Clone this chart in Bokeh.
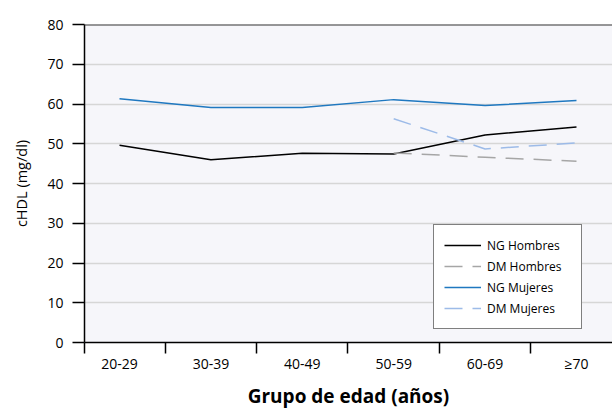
from bokeh.plotting import figure
from bokeh.models import Range1d, FixedTicker, Legend, LegendItem, Span
from bokeh.embed import file_html
from bokeh.resources import INLINE

# ---- data ----
groups = ["20-29", "30-39", "40-49", "50-59", "60-69", "≥70"]
ng_hombres = [49.6, 46.0, 47.6, 47.4, 52.2, 54.2]
ng_mujeres = [61.3, 59.1, 59.1, 61.1, 59.6, 60.9]
dm_groups = ["50-59", "60-69", "≥70"]
dm_hombres = [47.7, 46.6, 45.6]
dm_mujeres = [56.3, 48.7, 50.2]
y_ticks = [0, 10, 20, 30, 40, 50, 60, 70, 80]

FONT = "Open Sans"
idx = {g: i for i, g in enumerate(groups)}
x_all = [idx[g] for g in groups]
x_dm = [idx[g] for g in dm_groups]

x_start, x_end = -0.383, 5.394

p = figure(width=612, height=411, output_backend="svg", toolbar_location=None,
           x_range=Range1d(x_start, x_end), y_range=Range1d(0, 80),
           min_border_left=84, min_border_right=0, min_border_top=24, min_border_bottom=69)
p.background_fill_color = "#f6f6fa"
p.border_fill_color = "white"
p.outline_line_color = None

# axes
xa = p.xaxis[0]
xa.ticker = FixedTicker(ticks=x_all,
                        minor_ticks=[x_start] + [i + 0.5 for i in range(len(groups) - 1)])
xa.major_label_overrides = {i: g for i, g in enumerate(groups)}
xa.major_tick_line_color = None
xa.major_tick_out = 0
xa.major_tick_in = 0
xa.minor_tick_out = 11
xa.minor_tick_in = 0
xa.minor_tick_line_color = "black"
xa.minor_tick_line_width = 1.5
xa.axis_line_color = "black"
xa.axis_line_width = 1.5
xa.major_label_standoff = 0
xa.major_label_text_font = FONT
xa.major_label_text_font_size = "14px"
xa.major_label_text_color = "black"
xa.axis_label = "Grupo de edad (años)"
xa.axis_label_text_font = FONT
xa.axis_label_text_font_style = "bold"
xa.axis_label_text_font_size = "19px"
xa.axis_label_text_color = "black"
xa.axis_label_standoff = 7

ya = p.yaxis[0]
ya.ticker = FixedTicker(ticks=y_ticks)
ya.minor_tick_line_color = None
ya.major_tick_out = 12
ya.major_tick_in = 0
ya.major_tick_line_color = "black"
ya.major_tick_line_width = 1.5
ya.axis_line_color = "black"
ya.axis_line_width = 1.5
ya.major_label_standoff = 9
ya.major_label_text_font = FONT
ya.major_label_text_font_size = "14px"
ya.major_label_text_color = "black"
ya.axis_label = "cHDL (mg/dl)"
ya.axis_label_text_font = FONT
ya.axis_label_text_font_style = "normal"
ya.axis_label_text_font_size = "14.5px"
ya.axis_label_text_color = "black"
ya.axis_label_standoff = 13

p.xgrid.grid_line_color = None
p.ygrid.ticker = FixedTicker(ticks=y_ticks[1:-1])
p.ygrid.grid_line_color = "#d6d6d6"
p.ygrid.grid_line_width = 1.5

p.add_layout(Span(location=80, dimension="width", line_color="#333333", line_width=2))

# lines
r1 = p.line(x_all, ng_hombres, line_color="black", line_width=1.5)
r2 = p.line(x_dm, dm_hombres, line_color="#a6a6a6", line_width=1.5, line_dash="18 10")
r3 = p.line(x_all, ng_mujeres, line_color="#1f78c0", line_width=1.5)
r4 = p.line(x_dm, dm_mujeres, line_color="#9dbbe8", line_width=1.5, line_dash="18 10")

legend = Legend(items=[LegendItem(label="NG Hombres", renderers=[r1]),
                       LegendItem(label="DM Hombres", renderers=[r2]),
                       LegendItem(label="NG Mujeres", renderers=[r3]),
                       LegendItem(label="DM Mujeres", renderers=[r4])],
                location=(349, 13))
legend.margin = 0
legend.padding = 10
legend.spacing = 1
legend.glyph_width = 37
legend.glyph_height = 20
legend.label_height = 20
legend.label_width = 84
legend.label_standoff = 6
legend.label_text_font = FONT
legend.label_text_font_size = "12px"
legend.label_text_color = "black"
legend.background_fill_color = "white"
legend.background_fill_alpha = 1
legend.border_line_color = "black"
legend.border_line_width = 1.5
p.add_layout(legend)

open("out.html", "w").write(file_html(p, INLINE))
